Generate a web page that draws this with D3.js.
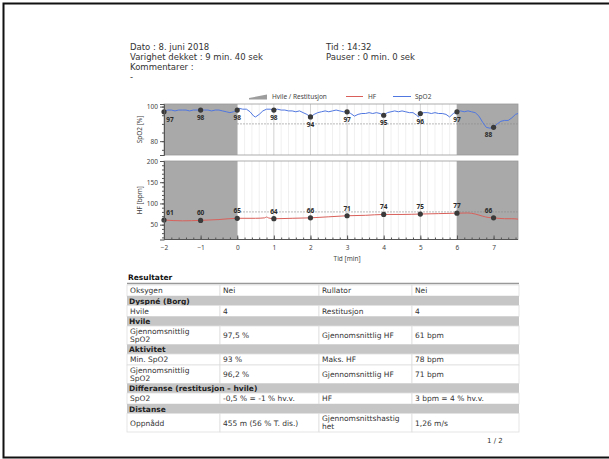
<!DOCTYPE html>
<html><head><meta charset="utf-8">
<script src="https://cdn.jsdelivr.net/npm/d3@7"></script>
<style>body{margin:0;background:#fff}svg{display:block}</style>
</head><body><svg id="c" width="609" height="459"></svg>
<script>
// ---- Test data -------------------------------------------------------
const minutes   = [-2, -1, 0, 1, 2, 3, 4, 5, 6, 7];
const spo2Marks = [97, 98, 98, 98, 94, 97, 95, 96, 97, 88];
const hfMarks   = [61, 60, 65, 64, 66, 71, 74, 75, 77, 66];

const spo2Time = [-2.0,-1.9,-1.8,-1.7,-1.6,-1.5,-1.4,-1.3,-1.2,-1.1,-1.0,-0.9,-0.8,-0.7,-0.6,-0.5,-0.4,-0.3,-0.2,-0.1,
  0.0,0.05,0.15,0.25,0.35,0.45,0.5,0.6,0.7,0.8,0.9,1.0,1.1,1.2,1.3,1.4,1.5,1.6,1.7,1.8,1.9,2.0,2.1,2.2,2.3,2.4,2.5,2.6,2.7,2.8,2.9,
  3.0,3.1,3.2,3.3,3.4,3.5,3.6,3.7,3.8,3.9,4.0,4.1,4.2,4.3,4.4,4.5,4.6,4.7,4.8,4.9,4.95,5.0,5.1,5.2,5.3,5.4,5.5,5.6,5.7,5.8,5.9,
  6.0,6.1,6.2,6.3,6.4,6.5,6.6,6.7,6.8,6.9,7.0,7.1,7.2,7.3,7.4,7.5,7.6,7.667];
const spo2Values = [97,98,98,97.5,98,98,98,97.5,98,98,98,98,98,97.5,98,98,97.5,97,96.5,97,
  98,99,98.5,98.5,97,94.5,94,95.5,97.5,98.5,98.5,98,98.5,98,98,97.5,97.5,97,97.5,96.5,95.5,94,95.5,96.5,97,97.5,97,97.5,98,97.5,97,
  97,96,94.5,95.5,96,96,96.5,96,96.5,96,95,96.5,97,97.5,97,97.5,97,96.5,96.5,95,94,96,96.5,96.5,96,96.5,96,96,95.5,94,96,
  97,97.5,97,97.5,97,96.5,94.5,91,88,87.5,88,90,91.5,92,92,93.5,95.5,96];

const hfTime   = [-2.0,-1.5,-1.0,-0.5,0.0,0.5,0.75,0.8,0.85,1.0,1.5,2.0,2.5,3.0,3.5,4.0,4.5,5.0,5.5,6.0,6.3,6.5,6.7,6.85,7.0,7.3,7.5,7.667];
const hfValues = [61,59,60,62,65,65,66,68,66,64,65,66,68.5,71,72,74,74,75,76,77,77.5,75,70,67,66,64,64,63];

const xTicks      = [-2, -1, 0, 1, 2, 3, 4, 5, 6, 7];
const spo2Ticks   = [100, 80];
const hfTicks     = [200, 150, 100, 50];
const restPeriods = [[-2, 0], [6, 7.667]];
const spo2Ref = 90, hfRef = 80;

const headerLines = [
  ["Dato : 8. juni 2018", "Tid : 14:32"],
  ["Varighet dekket : 9 min. 40 sek", "Pauser : 0 min. 0 sek"],
  ["Kommentarer :", ""],
  ["-", ""]
];

const tableRows = [
  ["Oksygen", "Nei", "Rullator", "Nei"],
  "Dyspné (Borg)",
  ["Hvile", "4", "Restitusjon", "4"],
  "Hvile",
  [["Gjennomsnittlig", "SpO2"], "97,5 %", "Gjennomsnittlig HF", "61 bpm"],
  "Aktivitet",
  ["Min. SpO2", "93 %", "Maks. HF", "78 bpm"],
  [["Gjennomsnittlig", "SpO2"], "96,2 %", "Gjennomsnittlig HF", "71 bpm"],
  "Differanse (restitusjon – hvile)",
  ["SpO2", "-0,5 % = -1 % hv.v.", "HF", "3 bpm = 4 % hv.v."],
  "Distanse",
  ["Oppnådd", "455 m (56 % T. dis.)", ["Gjennomsnittshastig", "het"], "1,26 m/s"]
];

// ---- Drawing ---------------------------------------------------------
const svg = d3.select("#c");
const verdana = "'DejaVu Sans', Verdana, sans-serif";
const segoe = "'Noto Sans', 'Open Sans', sans-serif";

svg.append("rect").attr("width", 609).attr("height", 459).attr("fill", "#fff");
svg.append("rect").attr("x", 3.5).attr("y", 3.5).attr("width", 640).attr("height", 454)
  .attr("fill", "none").attr("stroke", "#111").attr("stroke-width", 2);

// header block
headerLines.forEach((pair, i) => {
  svg.append("text").attr("x", 130).attr("y", 50 + i * 10).text(pair[0])
    .attr("font-family", verdana).attr("font-size", 8.5).attr("fill", "#333");
  if (pair[1]) svg.append("text").attr("x", 326).attr("y", 50 + i * 10).text(pair[1])
    .attr("font-family", verdana).attr("font-size", 8.5).attr("fill", "#333");
});

// scales
const x = d3.scaleLinear().domain([-2, 7.667]).range([164, 518]);
const ySp = d3.scaleLinear().domain([72, 101.5]).range([155, 104]);
const yHf = d3.scaleLinear().domain([15, 200]).range([239.5, 161]);

const panels = [
  {y: ySp, top: 104, bottom: 155},
  {y: yHf, top: 161, bottom: 239.5}
];

const g = svg.append("g");
// panel backgrounds, rest periods and grid
panels.forEach(p => {
  g.append("rect").attr("x", x(-2)).attr("y", p.top).attr("width", x(7.667) - x(-2))
    .attr("height", p.bottom - p.top).attr("fill", "#fff");
  d3.range(0, 6.001, 0.2).forEach(t => {
    const major = Math.abs(t - Math.round(t)) < 1e-6;
    g.append("line").attr("x1", x(t)).attr("x2", x(t)).attr("y1", p.top).attr("y2", p.bottom)
      .attr("stroke", major ? "#d2d2d2" : "#f0f0f0").attr("stroke-width", 1);
  });
  restPeriods.forEach(r => {
    g.append("rect").attr("x", x(r[0])).attr("y", p.top).attr("width", x(r[1]) - x(r[0]))
      .attr("height", p.bottom - p.top).attr("fill", "#a9a9a9");
  });
});

// reference lines
g.append("line").attr("x1", x(0)).attr("x2", x(7.667)).attr("y1", ySp(spo2Ref)).attr("y2", ySp(spo2Ref))
  .attr("stroke", "#8a8a8a").attr("stroke-width", 0.8).attr("stroke-dasharray", "1.5,1.5");
g.append("line").attr("x1", x(0)).attr("x2", x(7.667)).attr("y1", yHf(hfRef)).attr("y2", yHf(hfRef))
  .attr("stroke", "#8a8a8a").attr("stroke-width", 0.8).attr("stroke-dasharray", "1.5,1.5");

// panel frames
panels.forEach(p => {
  g.append("rect").attr("x", x(-2)).attr("y", p.top).attr("width", x(7.667) - x(-2))
    .attr("height", p.bottom - p.top).attr("fill", "none").attr("stroke", "#9a9a9a").attr("stroke-width", 0.8);
});

// series lines
const spLine = d3.line().x((d, i) => x(spo2Time[i])).y(d => ySp(d));
g.append("path").datum(spo2Values).attr("d", spLine).attr("fill", "none")
  .attr("stroke", "#5077e0").attr("stroke-width", 1);
const hfLine = d3.line().x((d, i) => x(hfTime[i])).y(d => yHf(d)).curve(d3.curveMonotoneX);
g.append("path").datum(hfValues).attr("d", hfLine).attr("fill", "none")
  .attr("stroke", "#d9605a").attr("stroke-width", 1);

// markers + value labels
function shiftFor(i) { return i === 0 ? 6 : (i === minutes.length - 1 ? -5 : 0); }
minutes.forEach((m, i) => {
  g.append("circle").attr("cx", x(m)).attr("cy", ySp(spo2Marks[i])).attr("r", 2.6).attr("fill", "#3a3a3a");
  g.append("text").attr("x", x(m) + shiftFor(i)).attr("y", ySp(spo2Marks[i]) + 10)
    .attr("text-anchor", "middle").attr("font-family", segoe).attr("font-weight", "bold")
    .attr("font-size", 6.5).attr("fill", "#2a2a2a").text(spo2Marks[i]);
  g.append("circle").attr("cx", x(m)).attr("cy", yHf(hfMarks[i])).attr("r", 2.6).attr("fill", "#3a3a3a");
  g.append("text").attr("x", x(m) + shiftFor(i)).attr("y", yHf(hfMarks[i]) - 5)
    .attr("text-anchor", "middle").attr("font-family", segoe).attr("font-weight", "bold")
    .attr("font-size", 6.5).attr("fill", "#2a2a2a").text(hfMarks[i]);
});

// axes
function styleAxis(sel) {
  sel.select(".domain").attr("stroke", "#555");
  sel.selectAll(".tick line").attr("stroke", "#555");
  sel.selectAll("text").attr("font-family", segoe).attr("font-size", 6.5).attr("fill", "#444");
}
const xMinor = svg.append("g").attr("transform", "translate(0,239.5)")
  .call(d3.axisBottom(x).tickValues(d3.range(-2, 7.61, 0.2)).tickSize(-2).tickFormat(""));
styleAxis(xMinor);
const xAxis = svg.append("g").attr("transform", "translate(0,239.5)")
  .call(d3.axisBottom(x).tickValues(xTicks).tickSize(-4).tickPadding(6).tickFormat(d3.format("d")));
styleAxis(xAxis);
xAxis.select(".domain").attr("d", `M${x(-2)},0H${x(7.667)}`);
xMinor.select(".domain").remove();

[[ySp, spo2Ticks, d3.range(75, 101, 5)], [yHf, hfTicks, d3.range(20, 201, 10)]].forEach(([y, major, minor]) => {
  const mi = svg.append("g").attr("transform", `translate(${x(-2)},0)`)
    .call(d3.axisLeft(y).tickValues(minor).tickSize(2).tickFormat(""));
  styleAxis(mi); mi.select(".domain").remove();
  const ma = svg.append("g").attr("transform", `translate(${x(-2)},0)`)
    .call(d3.axisLeft(y).tickValues(major).tickSize(4).tickPadding(2));
  styleAxis(ma);
});

svg.append("text").attr("x", x(3)).attr("y", 261).attr("text-anchor", "middle")
  .attr("font-family", segoe).attr("font-size", 6.5).attr("fill", "#444").text("Tid [min]");
svg.append("text").attr("transform", `translate(142,${(104 + 155) / 2}) rotate(-90)`).attr("text-anchor", "middle")
  .attr("font-family", segoe).attr("font-size", 6.5).attr("fill", "#444").text("SpO2 [%]");
svg.append("text").attr("transform", `translate(142,${(161 + 239.5) / 2}) rotate(-90)`).attr("text-anchor", "middle")
  .attr("font-family", segoe).attr("font-size", 6.5).attr("fill", "#444").text("HF [bpm]");

// legend
const lg = svg.append("g").attr("font-family", segoe).attr("font-size", 6.5).attr("fill", "#444");
lg.append("path").attr("d", "M249,99.5L267,99.5L267,94.5L249,98Z").attr("fill", "#9d9d9d");
lg.append("text").attr("x", 272).attr("y", 98.5).text("Hvile / Restitusjon");
lg.append("line").attr("x1", 346).attr("x2", 363).attr("y1", 96.5).attr("y2", 96.5).attr("stroke", "#d9605a");
lg.append("text").attr("x", 368).attr("y", 98.5).text("HF");
lg.append("line").attr("x1", 393).attr("x2", 411).attr("y1", 96.5).attr("y2", 96.5).attr("stroke", "#5077e0");
lg.append("text").attr("x", 415).attr("y", 98.5).text("SpO2");

// results table
const colX = [127, 220, 319, 412, 519];
const tb = svg.append("g").attr("font-family", verdana).attr("font-size", 7.5).attr("fill", "#333");
tb.append("text").attr("x", 128).attr("y", 280).attr("font-weight", "bold").attr("fill", "#111").text("Resultater");
tb.append("line").attr("x1", colX[0]).attr("x2", colX[4]).attr("y1", 283.5).attr("y2", 283.5)
  .attr("stroke", "#999").attr("stroke-width", 1.5);
let yPos = 285;
tableRows.forEach(row => {
  if (typeof row === "string") {
    const h = 9.5;
    tb.append("rect").attr("x", colX[0]).attr("y", yPos).attr("width", colX[4] - colX[0]).attr("height", h)
      .attr("fill", "#c6c6c6");
    tb.append("text").attr("x", colX[0] + 2).attr("y", yPos + 7.5).attr("font-weight", "bold")
      .attr("fill", "#222").text(row);
    yPos += h;
  } else {
    const double = row.some(c => Array.isArray(c));
    const h = double ? 18.5 : 11;
    for (let c = 0; c < 4; c++) {
      tb.append("rect").attr("x", colX[c]).attr("y", yPos).attr("width", colX[c + 1] - colX[c]).attr("height", h)
        .attr("fill", "#fff").attr("stroke", "#dedede").attr("stroke-width", 0.8);
      const cell = row[c];
      if (Array.isArray(cell)) {
        cell.forEach((line, k) => tb.append("text").attr("x", colX[c] + 3).attr("y", yPos + 7.5 + k * 8).text(line));
      } else {
        tb.append("text").attr("x", colX[c] + 3).attr("y", yPos + h / 2 + 2.8).text(cell);
      }
    }
    yPos += h;
  }
});
svg.append("text").attr("x", 487).attr("y", 443).attr("font-family", verdana).attr("font-size", 7)
  .attr("fill", "#333").text("1 / 2");
</script></body></html>
